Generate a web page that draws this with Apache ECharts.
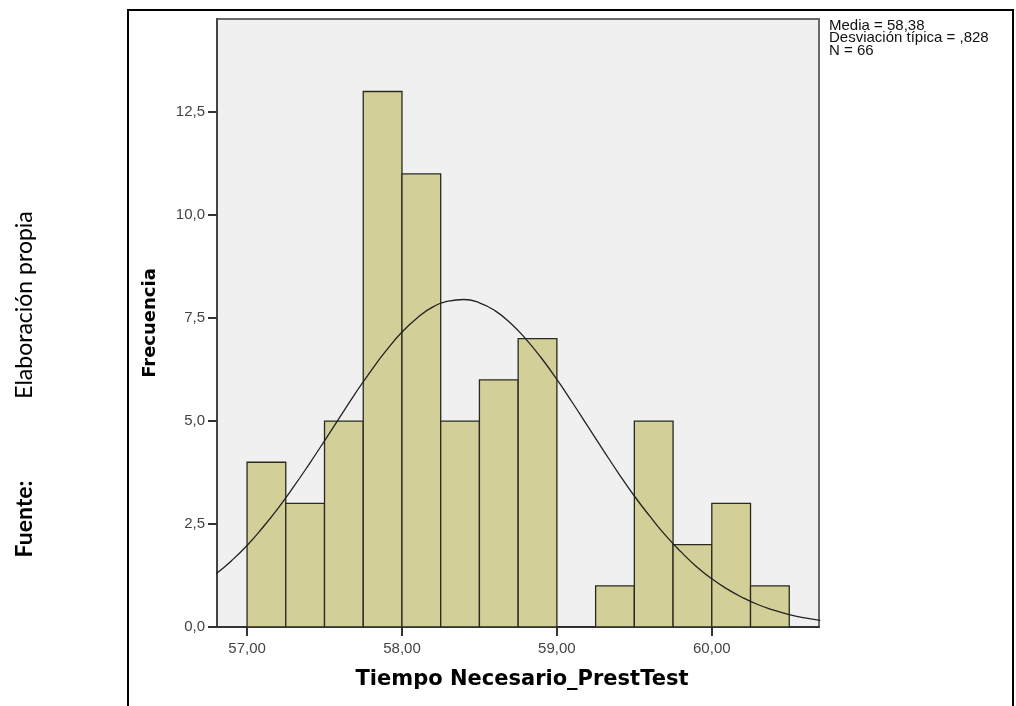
<!DOCTYPE html>
<html>
<head>
<meta charset="utf-8">
<script src="https://cdn.jsdelivr.net/npm/echarts@6/dist/echarts.min.js"></script>
<style>
html,body{margin:0;padding:0;background:#fff;}
#c{width:1016px;height:706px;}
</style>
</head>
<body>
<div id="c"></div>
<script>
// ---- data ----
var binStart = [57.00, 57.25, 57.50, 57.75, 58.00, 58.25, 58.50, 58.75, 59.00, 59.25, 59.50, 59.75, 60.00, 60.25];
var binEnd   = [57.25, 57.50, 57.75, 58.00, 58.25, 58.50, 58.75, 59.00, 59.25, 59.50, 59.75, 60.00, 60.25, 60.50];
var counts   = [4, 3, 5, 13, 11, 5, 6, 7, 0, 1, 5, 2, 3, 1];
var curveX = [56.8, 56.9, 57.0, 57.1, 57.2, 57.3, 57.4, 57.5, 57.6, 57.7, 57.8, 57.9, 58.0, 58.1, 58.2, 58.3, 58.4, 58.5, 58.6, 58.7, 58.8, 58.9, 59.0, 59.1, 59.2, 59.3, 59.4, 59.5, 59.6, 59.7, 59.8, 59.9, 60.0, 60.1, 60.2, 60.3, 60.4, 60.5, 60.6, 60.7];
var curveY = [1.29, 1.61, 1.98, 2.41, 2.88, 3.40, 3.95, 4.52, 5.10, 5.68, 6.22, 6.72, 7.16, 7.51, 7.77, 7.91, 7.95, 7.87, 7.68, 7.38, 6.99, 6.53, 6.01, 5.45, 4.87, 4.29, 3.72, 3.18, 2.69, 2.23, 1.83, 1.47, 1.17, 0.92, 0.71, 0.54, 0.41, 0.30, 0.22, 0.16];
var xTicks = [57, 58, 59, 60];
var yTicks = [0, 2.5, 5, 7.5, 10, 12.5];
var statsLines = ['Media = 58,38', 'Desviación típica = ,828', 'N = 66'];
var xTitle = 'Tiempo Necesario_PrestTest';
var yTitle = 'Frecuencia';

// ---- chart ----
var chart = echarts.init(document.getElementById('c'), null, {renderer: 'canvas'});
var histData = binStart.map(function (s, i) { return [s, binEnd[i], counts[i]]; });
var lineData = curveX.map(function (x, i) { return [x, curveY[i]]; });

var option = {
  animation: false,
  backgroundColor: '#ffffff',
  grid: {
    left: 217, right: 197, top: 19, bottom: 79,
    show: true, backgroundColor: '#f0f0f0', borderColor: '#6a6a6a', borderWidth: 2
  },
  xAxis: {
    type: 'value', min: 56.806, max: 60.692,
    name: xTitle, nameLocation: 'middle', nameGap: 42,
    nameTextStyle: {fontFamily: 'DejaVu Sans', fontWeight: 'bold', fontSize: 21, color: '#000', padding: [0, 0, 0, 8]},
    axisLine: {show: true, onZero: false, lineStyle: {color: '#333', width: 2}},
    axisTick: {show: true, length: 9, customValues: xTicks, lineStyle: {color: '#333', width: 2}},
    axisLabel: {
      customValues: xTicks, margin: 14, fontFamily: 'Liberation Sans', fontSize: 15, color: '#444',
      formatter: function (v) { return v.toFixed(2).replace('.', ','); }
    },
    splitLine: {show: false}
  },
  yAxis: {
    type: 'value', min: 0, max: 14.76,
    name: yTitle, nameLocation: 'middle', nameGap: 58,
    nameTextStyle: {fontFamily: 'DejaVu Sans', fontWeight: 'bold', fontSize: 18, color: '#000'},
    axisLine: {show: true, onZero: false, lineStyle: {color: '#444', width: 2}},
    axisTick: {show: true, length: 9, customValues: yTicks, lineStyle: {color: '#333', width: 2}},
    axisLabel: {
      customValues: yTicks, margin: 12, fontFamily: 'Liberation Sans', fontSize: 15, color: '#444',
      formatter: function (v) { return v.toFixed(1).replace('.', ','); }
    },
    splitLine: {show: false}
  },
  series: [
    {
      type: 'custom',
      data: histData,
      encode: {x: [0, 1], y: 2},
      clip: true,
      renderItem: function (params, api) {
        var p0 = api.coord([api.value(0), api.value(2)]);
        var p1 = api.coord([api.value(1), 0]);
        return {
          type: 'rect',
          shape: {x: p0[0], y: p0[1], width: p1[0] - p0[0], height: p1[1] - p0[1]},
          style: {fill: '#d3cf98', stroke: '#2a2a1c', lineWidth: 1.3}
        };
      },
      z: 2
    },
    {
      type: 'line',
      data: lineData,
      smooth: true,
      showSymbol: false,
      clip: true,
      lineStyle: {color: '#222', width: 1.3},
      z: 3
    }
  ],
  graphic: [
    {type: 'rect', shape: {x: 128, y: 10, width: 885, height: 720}, style: {fill: null, stroke: '#000', lineWidth: 2}, z: 10, silent: true},
    {type: 'text', left: 829, top: 18, style: {text: statsLines.join('\n'), fontFamily: 'Liberation Sans', fontSize: 15, lineHeight: 12.5, fill: '#111'}, z: 10},
    {type: 'text', x: 25, y: 305, rotation: Math.PI / 2, style: {text: 'Elaboración propia', fontFamily: 'Lato', fontSize: 23, fill: '#000', align: 'center', verticalAlign: 'middle'}, z: 10},
    {type: 'text', x: 25, y: 519, rotation: Math.PI / 2, style: {text: 'Fuente:', fontFamily: 'Lato', fontWeight: 'bold', fontSize: 23, fill: '#000', align: 'center', verticalAlign: 'middle'}, z: 10}
  ]
};
chart.setOption(option);
</script>
</body>
</html>
